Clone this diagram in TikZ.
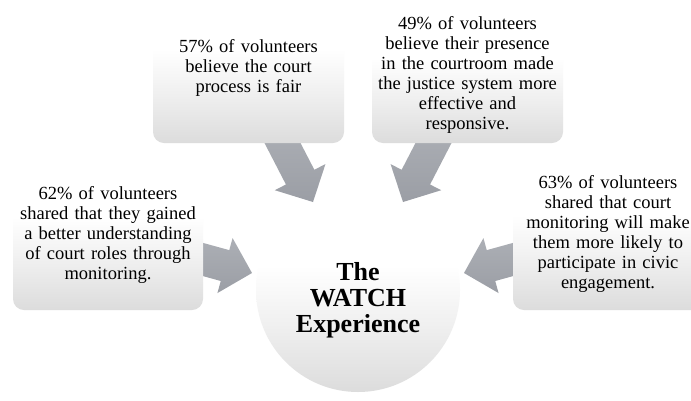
\documentclass[tikz,border=0pt]{standalone}
\usepackage{fontspec}
\setmainfont{Liberation Serif}
\newfontfamily\timesfont{Liberation Serif}
\usetikzlibrary{calc}
\definecolor{boxbot}{RGB}{220,220,220}
\definecolor{boxmid}{RGB}{238,238,238}
\definecolor{arrtop}{RGB}{172,175,181}
\definecolor{arrbot}{RGB}{155,158,165}
\pgfdeclareverticalshading{fade}{100bp}{color(0bp)=(boxbot); color(25bp)=(boxbot);
  color(40bp)=(boxmid); color(56bp)=(white); color(75bp)=(white); color(100bp)=(white)}
\tikzset{
  infobox/.style={rounded corners=11pt, shading=fade,
    draw=none, inner sep=0pt, align=center, text width=186pt,
    font=\timesfont\fontsize{18.5}{20}\selectfont},
  hub/.style={circle, shading=fade, draw=none, inner sep=0pt},
  hubtext/.style={align=center, inner sep=0pt, font=\timesfont\bfseries\fontsize{26}{26}\selectfont},
  arrowshade/.style={top color=arrtop, bottom color=arrbot, draw=none}
}
\newcommand{\blockarrow}[3]{%
  \coordinate (#3h) at ($(#2)!28pt!(#1)$);
  \shade[arrowshade] ($(#1)!16pt!90:(#2)$) -- ($(#3h)!16pt!90:(#2)$)
    -- ($(#3h)!28.5pt!90:(#2)$) -- (#2) -- ($(#3h)!28.5pt!-90:(#2)$)
    -- ($(#3h)!16pt!-90:(#2)$) -- ($(#1)!16pt!-90:(#2)$) -- cycle;
}
\begin{document}
\begin{tikzpicture}[x=1pt,y=-1pt]
\useasboundingbox (0,0) rectangle (691,400);
\clip (0,0) rectangle (691,400);
\fill[white] (0,0) rectangle (691,400);

% central circle
\node[hub, minimum size=204pt] (c) at (358,290) {};
\node[hubtext] (ct) at (358,300) {The\\WATCH\\Experience};

% arrow end points
\coordinate (s1) at (276.3,131);
\coordinate (t1) at (313,202);
\coordinate (s2) at (439.7,131);
\coordinate (t2) at (403,202);
\coordinate (s3) at (184.5,254.4);
\coordinate (t3) at (252,273);
\coordinate (s4) at (531.5,254.4);
\coordinate (t4) at (464,273);

\blockarrow{s1}{t1}{a1}
\blockarrow{s2}{t2}{a2}
\blockarrow{s3}{t3}{a3}
\blockarrow{s4}{t4}{a4}

% boxes
\node[infobox, minimum width=191pt, minimum height=151pt] (b1) at (248.5,67.5)
  {57\% of volunteers\\believe the court\\process is fair};
\node[infobox, minimum width=191pt, minimum height=137pt] (b2) at (467.5,74.5)
  {49\% of volunteers\\believe their presence\\in the courtroom made\\the justice system more\\effective and\\responsive.};
\node[infobox, minimum width=190pt, minimum height=150pt] (bl) at (108,235)
  {62\% of volunteers\\shared that they gained\\a better understanding\\of court roles through\\monitoring.};
\node[infobox, minimum width=190pt, minimum height=153pt] (br) at (608,233.5)
  {63\% of volunteers\\shared that court\\monitoring will make\\them more likely to\\participate in civic\\engagement.};
\end{tikzpicture}
\end{document}
